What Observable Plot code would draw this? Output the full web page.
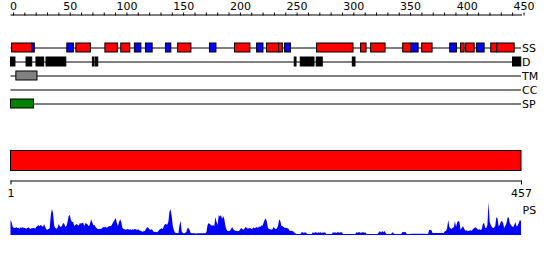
<!DOCTYPE html>
<html><head><meta charset="utf-8">
<script src="https://cdn.jsdelivr.net/npm/d3@7"></script>
<script src="https://cdn.jsdelivr.net/npm/@observablehq/plot@0.6"></script>
<style>
body{margin:0;background:#fff;}
#chart{width:550px;height:260px;}
#chart svg{display:block;}
</style></head><body><div id="chart"></div><script>
// ---- data ----
const seqLength = 457;
const rulerTicks = d3.range(0, 451, 10);
const rulerLabels = [0, 50, 100, 150, 200, 250, 300, 350, 400, 450];
const bottomTicks = [1, 457];
const trackNames = ["SS", "D", "TM", "CC", "SP"];

const helixStart = [1, 58.5, 84.5, 98.7, 149.5, 200.5, 229.2, 240, 274, 313.4, 322.4, 351.1, 368.1, 402.8, 407.5, 429.9, 435.3];
const helixEnd   = [19, 71.5, 95.7, 106.8, 161.5, 214.3, 240, 243.5, 306.6, 318.3, 335.3, 358.6, 377.4, 406.1, 415.1, 435.3, 450.9];
const strandStart = [19, 50.4, 110.9, 120.8, 138.7, 178.1, 220.3, 245.3, 358.6, 393.2, 417.1];
const strandEnd   = [21.3, 56.3, 116.7, 126.8, 143.5, 183.9, 226, 250.7, 364.9, 399.2, 424];
const disorderStart = [0, 13.9, 22.8, 31.8, 73.3, 76, 254, 259.4, 273.7, 306, 449.4];
const disorderEnd   = [4, 19, 29.7, 49.5, 74.8, 78.1, 255.6, 271.7, 279.1, 308.4, 456.8];
const tmStart = [4.8], tmEnd = [23.7];
const ccStart = [], ccEnd = [];
const spStart = [0], spEnd = [20.6];
const bigBarStart = [1], bigBarEnd = [457];

const psValues = [
44,38,24,22,20,24,21,22,19,23,
21,24,20,22,19,21,23,20,18,21,
20,22,19,24,27,29,26,31,27,25,
32,24,17,16,18,20,60,78,66,28,
21,19,22,33,26,24,28,36,34,25,
27,40,58,60,44,40,38,27,30,33,
31,28,36,34,37,35,27,36,34,31,
26,33,47,38,29,30,24,20,18,17,
19,18,22,24,23,25,22,24,27,26,
28,34,40,46,50,36,27,40,47,38,
21,18,17,16,17,18,16,17,15,17,
16,18,17,15,17,14,13,11,10,11,
12,18,24,22,17,16,17,14,9,10,
9,8,12,16,18,20,18,26,33,32,
31,40,70,77,56,27,14,7,6,6,
5,30,42,10,6,5,6,9,20,21,
14,6,5,5,5,5,4,5,5,5,
5,5,5,5,5,8,30,36,33,30,
28,30,26,54,40,30,60,55,60,48,
57,47,27,16,12,12,13,18,24,17,
14,12,13,11,12,16,21,18,16,19,
24,22,19,20,21,18,19,23,20,22,
24,21,26,23,29,27,36,45,50,40,
21,18,17,16,17,24,20,17,20,28,
47,42,27,26,24,21,22,20,20,14,
12,13,11,10,6,4,3,3,3,3,
8,8,6,8,7,3,3,3,3,3,
8,6,8,8,5,8,7,8,5,8,
7,8,3,3,3,3,3,3,8,7,
8,6,8,8,7,8,8,3,3,3,
3,3,3,3,3,3,3,3,3,8,
7,8,8,6,8,8,7,8,3,3,
3,3,3,3,3,3,3,3,3,8,
12,7,12,8,12,7,3,3,3,3,
3,8,6,3,3,3,3,3,3,3,
9,8,9,8,3,3,3,3,4,4,
4,4,4,4,4,4,4,4,4,4,
4,4,3,4,15,16,14,6,6,6,
6,6,6,6,6,7,6,6,11,12,
20,45,24,20,18,22,23,41,24,38,
42,40,16,20,26,22,13,14,13,12,
13,14,13,17,20,23,22,18,16,17,
15,18,34,36,22,21,30,99,40,30,
24,21,22,28,53,50,26,30,40,42,
36,21,28,35,52,53,36,30,26,23,
30,39,26,28,36,45,42
];

// ---- build tables ----
function segs(starts, ends, track, color) {
  return starts.map((s, i) => ({start: s, end: ends[i], track, color}));
}
const features = [
  ...segs(helixStart, helixEnd, "SS", "#ff0000"),
  ...segs(strandStart, strandEnd, "SS", "#0000ff"),
  ...segs(disorderStart, disorderEnd, "D", "#000000"),
  ...segs(tmStart, tmEnd, "TM", "#808080"),
  ...segs(ccStart, ccEnd, "CC", "#ffff00"),
  ...segs(spStart, spEnd, "SP", "#008000")
];
const bigBar = segs(bigBarStart, bigBarEnd, "all", "#ff0000");
const ps = psValues.map((v, i) => ({pos: i + 1, v}));

const style = {fontFamily: "DejaVu Sans", fontSize: "11px", background: "white", color: "black", overflow: "visible"};
const root = document.getElementById("chart");

// ruler
root.append(Plot.plot({
  width: 550, height: 20, marginTop: 14.5, marginBottom: 5.5, marginLeft: 10.5, marginRight: 29,
  style,
  x: {domain: [0, 450], range: [10.5, 521]},
  marks: [
    Plot.frame({anchor: "top", stroke: "black"}),
    Plot.axisX({anchor: "top", ticks: rulerTicks, tickSize: 3, tickPadding: 2, dx: 2.5, label: null,
      tickFormat: d => rulerLabels.includes(d) ? String(d) : ""})
  ]
}));

// tracks
root.append(Plot.plot({
  width: 550, height: 100, marginTop: 0, marginBottom: 0, marginLeft: 10.5, marginRight: 29,
  style,
  x: {domain: [0, seqLength], range: [10.5, 521], axis: null},
  y: {type: "band", domain: trackNames, range: [15.5, 95.5], padding: 1/3, axis: null},
  color: {type: "identity"},
  marks: [
    Plot.ruleY(trackNames, {y: d => d, x1: 0, x2: seqLength, stroke: "black"}),
    Plot.barX(features, {x1: "start", x2: "end", y: "track", fill: "color", stroke: "black", strokeWidth: 1}),
    Plot.text(trackNames, {x: seqLength, y: d => d, text: d => d, textAnchor: "start", dx: 0.5, fontSize: 11})
  ]
}));

// whole-sequence bar + ruler
root.append(Plot.plot({
  width: 550, height: 80, marginTop: 30.5, marginBottom: 19.5, marginLeft: 10.5, marginRight: 29,
  style,
  x: {domain: [1, seqLength], range: [10.5, 521]},
  color: {type: "identity"},
  marks: [
    Plot.barX(bigBar, {x1: "start", x2: "end", fill: "color", stroke: "black", insetBottom: 10}),
    Plot.frame({anchor: "bottom", stroke: "black"}),
    Plot.axisX({ticks: bottomTicks, tickSize: 4, tickPadding: 4, label: null, tickFormat: d => String(d)})
  ]
}));

// PS profile
root.append(Plot.plot({
  width: 550, height: 60, marginTop: 1.7, marginBottom: 25, marginLeft: 10.5, marginRight: 29,
  style,
  x: {domain: [1, seqLength], range: [10.5, 521], axis: null},
  y: {domain: [0, 100], axis: null},
  marks: [
    Plot.areaY(ps, {x: "pos", y: "v", fill: "#0000ff"}),
    Plot.text(["PS"], {frameAnchor: "top-right", text: d => d, textAnchor: "start", lineAnchor: "middle", dx: 1, dy: 8.5, fontSize: 11})
  ]
}));
</script></body></html>
